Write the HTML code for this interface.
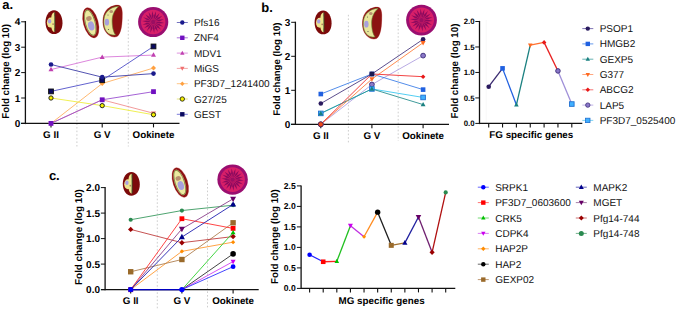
<!DOCTYPE html>
<html><head><meta charset="utf-8"><style>
html,body{margin:0;padding:0;background:#fff;}
body{width:677px;height:311px;overflow:hidden;}
svg{display:block;font-family:"Liberation Sans", sans-serif;}
</style></head><body>
<svg width="677" height="311" viewBox="0 0 677 311" text-rendering="geometricPrecision">
<rect width="677" height="311" fill="#fff"/>
<text x="2.30" y="8.70" font-size="13" font-weight="bold" text-anchor="start" fill="#000">a.</text>
<line x1="76.90" y1="19.00" x2="76.90" y2="146.50" stroke="#c2c2c2" stroke-width="0.8" stroke-dasharray="1.6 2"/>
<line x1="128.30" y1="19.50" x2="128.30" y2="146.50" stroke="#c2c2c2" stroke-width="0.8" stroke-dasharray="1.6 2"/>
<line x1="25.40" y1="21.00" x2="25.40" y2="124.10" stroke="#111" stroke-width="1.3" />
<line x1="21.20" y1="123.40" x2="25.40" y2="123.40" stroke="#111" stroke-width="1.0" />
<text x="20.30" y="126.95" font-size="10" font-weight="bold" text-anchor="end" fill="#000">0</text>
<line x1="21.20" y1="98.00" x2="25.40" y2="98.00" stroke="#111" stroke-width="1.0" />
<text x="20.30" y="101.55" font-size="10" font-weight="bold" text-anchor="end" fill="#000">1</text>
<line x1="21.20" y1="72.60" x2="25.40" y2="72.60" stroke="#111" stroke-width="1.0" />
<text x="20.30" y="76.15" font-size="10" font-weight="bold" text-anchor="end" fill="#000">2</text>
<line x1="21.20" y1="47.20" x2="25.40" y2="47.20" stroke="#111" stroke-width="1.0" />
<text x="20.30" y="50.75" font-size="10" font-weight="bold" text-anchor="end" fill="#000">3</text>
<line x1="21.20" y1="21.80" x2="25.40" y2="21.80" stroke="#111" stroke-width="1.0" />
<text x="20.30" y="25.35" font-size="10" font-weight="bold" text-anchor="end" fill="#000">4</text>
<text x="9.20" y="71.40" font-size="10" font-weight="bold" text-anchor="middle" fill="#000" textLength="94.6" lengthAdjust="spacingAndGlyphs" transform="rotate(-90 9.20 71.40)">Fold change (log 10)</text>
<line x1="21.00" y1="123.40" x2="179.50" y2="123.40" stroke="#111" stroke-width="1.3" />
<line x1="51.00" y1="123.40" x2="51.00" y2="127.40" stroke="#111" stroke-width="1.1" />
<line x1="102.20" y1="123.40" x2="102.20" y2="127.40" stroke="#111" stroke-width="1.1" />
<line x1="153.50" y1="123.40" x2="153.50" y2="127.40" stroke="#111" stroke-width="1.1" />
<text x="51.00" y="138.40" font-size="9.8" font-weight="bold" text-anchor="middle" fill="#000">G II</text>
<text x="102.20" y="138.40" font-size="9.8" font-weight="bold" text-anchor="middle" fill="#000">G V</text>
<text x="153.50" y="138.40" font-size="9.8" font-weight="bold" text-anchor="middle" fill="#000">Ookinete</text>
<g transform="translate(54.0 22.2) scale(1.0)">
<path d="M0,-11.9 C5,-11.9 8.6,-6 8.5,1 C8.4,7.5 5,11.9 0,11.9 C-5,11.9 -8.5,7 -8.5,0 C-8.5,-6.5 -5,-11.9 0,-11.9Z" fill="#7c0a0a"/>
<path d="M0.5,-10 L0.5,9.8 C-1,9.6 -2.2,8 -2.7,5 L-2.7,-5 C-2.5,-8 -1.2,-9.8 0.5,-10 Z" fill="#eee58e"/>
<ellipse cx="-3.4" cy="0.4" rx="3.7" ry="5.0" fill="#eee58e"/>
<rect x="-0.1" y="-6" width="0.6" height="12" fill="#eee58e"/>
<line x1="0.8" y1="-9.7" x2="0.8" y2="9.5" stroke="#2d5a2d" stroke-width="0.8"/>
<ellipse cx="-4.4" cy="-1.0" rx="1.7" ry="2.2" fill="#aaa0e0"/>
<circle cx="-0.9" cy="1.9" r="0.9" fill="#b08060"/>
</g>
<g transform="translate(90.8 22.8) rotate(-15)">
<ellipse cx="0" cy="0" rx="7.800000000000001" ry="15.9" fill="#e6a8a8"/>
<ellipse cx="0" cy="0" rx="7.4" ry="15.5" fill="#8c1212"/>
<ellipse cx="-0.5" cy="-0.2" rx="5.5" ry="13.6" fill="#d09080"/>
<ellipse cx="-0.5" cy="-0.2" rx="5.1000000000000005" ry="13.2" fill="#6f8a3a"/>
<ellipse cx="-0.5" cy="-0.2" rx="4.4" ry="12.5" fill="#ece9a0"/>
<ellipse cx="-0.4" cy="3.1" rx="3.108" ry="4.6499999999999995" fill="#a8a0dc"/>
<ellipse cx="-0.7" cy="-4.6499999999999995" rx="2.8120000000000003" ry="2.3249999999999997" fill="#b89070"/>
</g>
<g transform="translate(112.5 21.0) scale(1.0)">
<path d="M5.5,-16.3 C9,-16 10.2,-12.5 10.2,-7 C10.2,3 9.2,13 4.5,16 C0,17.8 -6,14.5 -8.7,8 C-10.7,3 -10.6,-5 -7.2,-10 C-4,-14.3 1,-16.5 5.5,-16.3 Z" fill="#e6a0a0"/>
<path d="M5.5,-16 C8.5,-15.7 9.8,-12.3 9.8,-7 C9.8,3 8.8,12.8 4.5,15.6 C0,17.2 -5.8,14 -8.3,8 C-10.3,3 -10.2,-5 -6.8,-9.8 C-3.8,-14 1,-16.2 5.5,-16 Z" fill="#8c1212"/>
<path d="M6,-14.6 C0,-14.4 -5.8,-11 -7.9,-5 C-9.4,1 -8.6,7 -5.8,10.8 C-3.6,13.4 -0.5,14.6 3,13.9 C0.6,11 -0.4,5 -0.4,0 C-0.4,-6 2,-11 6,-14.6 Z" fill="#e8e59a" stroke="#6a8a38" stroke-width="0.6"/>
<ellipse cx="-5.6" cy="1.2" rx="2.2" ry="3.4" fill="#a8a0dc"/>
<ellipse cx="-1.2" cy="-9.5" rx="1.8" ry="1.5" fill="#b89070"/>
<circle cx="-4" cy="8.5" r="0.6" fill="#555"/>
<circle cx="-4.5" cy="-6" r="0.5" fill="#555"/>
</g>
<g transform="translate(153.2 22.0)">
<circle r="15.1" fill="#9a0e70"/>
<circle r="12.2" fill="#d81f68"/>
<polygon points="1.49,0.13 6.40,1.46 11.06,0.97 6.55,-0.33" fill="#8a0a5e"/>
<polygon points="1.36,0.63 5.51,3.56 10.06,4.69 6.27,1.93" fill="#8a0a5e"/>
<polygon points="1.06,1.06 3.96,5.23 7.85,7.85 5.23,3.96" fill="#8a0a5e"/>
<polygon points="0.63,1.36 1.93,6.27 4.69,10.06 3.56,5.51" fill="#8a0a5e"/>
<polygon points="0.13,1.49 -0.33,6.55 0.97,11.06 1.46,6.40" fill="#8a0a5e"/>
<polygon points="-0.39,1.45 -2.55,6.05 -2.87,10.72 -0.81,6.51" fill="#8a0a5e"/>
<polygon points="-0.86,1.23 -4.47,4.81 -6.37,9.09 -2.99,5.84" fill="#8a0a5e"/>
<polygon points="-1.23,0.86 -5.84,2.99 -9.09,6.37 -4.81,4.47" fill="#8a0a5e"/>
<polygon points="-1.45,0.39 -6.51,0.81 -10.72,2.87 -6.05,2.55" fill="#8a0a5e"/>
<polygon points="-1.49,-0.13 -6.40,-1.46 -11.06,-0.97 -6.55,0.33" fill="#8a0a5e"/>
<polygon points="-1.36,-0.63 -5.51,-3.56 -10.06,-4.69 -6.27,-1.93" fill="#8a0a5e"/>
<polygon points="-1.06,-1.06 -3.96,-5.23 -7.85,-7.85 -5.23,-3.96" fill="#8a0a5e"/>
<polygon points="-0.63,-1.36 -1.93,-6.27 -4.69,-10.06 -3.56,-5.51" fill="#8a0a5e"/>
<polygon points="-0.13,-1.49 0.33,-6.55 -0.97,-11.06 -1.46,-6.40" fill="#8a0a5e"/>
<polygon points="0.39,-1.45 2.55,-6.05 2.87,-10.72 0.81,-6.51" fill="#8a0a5e"/>
<polygon points="0.86,-1.23 4.47,-4.81 6.37,-9.09 2.99,-5.84" fill="#8a0a5e"/>
<polygon points="1.23,-0.86 5.84,-2.99 9.09,-6.37 4.81,-4.47" fill="#8a0a5e"/>
<polygon points="1.45,-0.39 6.51,-0.81 10.72,-2.87 6.05,-2.55" fill="#8a0a5e"/>
<circle r="2.2" fill="#9a0e62"/>
</g>
<polyline points="51.00,123.40 102.20,83.52 153.50,68.03" fill="none" stroke="#ffb060" stroke-width="0.9" stroke-linejoin="round"/>
<polyline points="51.00,123.40 102.20,99.78 153.50,113.24" fill="none" stroke="#f09090" stroke-width="0.9" stroke-linejoin="round"/>
<polyline points="51.00,69.55 102.20,57.11 153.50,55.07" fill="none" stroke="#d878d8" stroke-width="0.9" stroke-linejoin="round"/>
<polyline points="51.00,98.00 102.20,105.62 153.50,114.76" fill="none" stroke="#eeee40" stroke-width="0.9" stroke-linejoin="round"/>
<polyline points="51.00,123.40 102.20,99.78 153.50,91.65" fill="none" stroke="#9a50d0" stroke-width="0.9" stroke-linejoin="round"/>
<polyline points="51.00,91.40 102.20,80.22 153.50,46.44" fill="none" stroke="#5050c8" stroke-width="0.9" stroke-linejoin="round"/>
<polyline points="51.00,64.47 102.20,77.17 153.50,73.62" fill="none" stroke="#4040a8" stroke-width="0.9" stroke-linejoin="round"/>
<polygon points="51.00,120.90 53.50,123.40 51.00,125.90 48.50,123.40" fill="#ffa040"/>
<polygon points="102.20,81.02 104.70,83.52 102.20,86.02 99.70,83.52" fill="#ffa040"/>
<polygon points="153.50,65.53 156.00,68.03 153.50,70.53 151.00,68.03" fill="#ffa040"/>
<polygon points="51.00,126.10 53.50,121.60 48.50,121.60" fill="#f07070"/>
<polygon points="102.20,102.48 104.70,97.98 99.70,97.98" fill="#f07070"/>
<polygon points="153.50,115.94 156.00,111.44 151.00,111.44" fill="#f07070"/>
<polygon points="51.00,66.85 53.50,71.35 48.50,71.35" fill="#c040b0"/>
<polygon points="102.20,54.41 104.70,58.91 99.70,58.91" fill="#c040b0"/>
<polygon points="153.50,52.37 156.00,56.87 151.00,56.87" fill="#c040b0"/>
<circle cx="51.00" cy="98.00" r="2.15" fill="#f5f000" stroke="#111" stroke-width="0.9"/>
<circle cx="102.20" cy="105.62" r="2.15" fill="#f5f000" stroke="#111" stroke-width="0.9"/>
<circle cx="153.50" cy="114.76" r="2.15" fill="#f5f000" stroke="#111" stroke-width="0.9"/>
<rect x="48.60" y="121.00" width="4.80" height="4.80" fill="#7010c0"/>
<rect x="99.80" y="97.38" width="4.80" height="4.80" fill="#7010c0"/>
<rect x="151.10" y="89.25" width="4.80" height="4.80" fill="#7010c0"/>
<rect x="48.60" y="89.00" width="4.80" height="4.80" fill="#0a0a60" stroke="#111" stroke-width="0.9"/>
<rect x="99.80" y="77.82" width="4.80" height="4.80" fill="#0a0a60" stroke="#111" stroke-width="0.9"/>
<rect x="151.10" y="44.04" width="4.80" height="4.80" fill="#0a0a60" stroke="#111" stroke-width="0.9"/>
<circle cx="51.00" cy="64.47" r="2.30" fill="#1a1a8c"/>
<circle cx="102.20" cy="77.17" r="2.30" fill="#1a1a8c"/>
<circle cx="153.50" cy="73.62" r="2.30" fill="#1a1a8c"/>
<line x1="176.80" y1="22.50" x2="187.80" y2="22.50" stroke="#5050b0" stroke-width="0.8" />
<circle cx="182.30" cy="22.50" r="2.20" fill="#1a1a8c"/>
<text x="193.90" y="26.00" font-size="10" font-weight="normal" text-anchor="start" fill="#111">Pfs16</text>
<line x1="176.80" y1="37.80" x2="187.80" y2="37.80" stroke="#9a50d0" stroke-width="0.8" />
<rect x="180.10" y="35.60" width="4.40" height="4.40" fill="#7010c0"/>
<text x="193.90" y="41.30" font-size="10" font-weight="normal" text-anchor="start" fill="#111">ZNF4</text>
<line x1="176.80" y1="53.10" x2="187.80" y2="53.10" stroke="#d878d8" stroke-width="0.8" />
<polygon points="182.30,50.72 184.50,54.68 180.10,54.68" fill="#c040b0"/>
<text x="193.90" y="56.60" font-size="10" font-weight="normal" text-anchor="start" fill="#111">MDV1</text>
<line x1="176.80" y1="68.40" x2="187.80" y2="68.40" stroke="#f09090" stroke-width="0.8" />
<polygon points="182.30,70.78 184.50,66.82 180.10,66.82" fill="#f07070"/>
<text x="193.90" y="71.90" font-size="10" font-weight="normal" text-anchor="start" fill="#111">MiGS</text>
<line x1="176.80" y1="83.70" x2="187.80" y2="83.70" stroke="#ffb868" stroke-width="0.8" />
<polygon points="182.30,81.50 184.50,83.70 182.30,85.90 180.10,83.70" fill="#ffa040"/>
<text x="193.90" y="87.20" font-size="10" font-weight="normal" text-anchor="start" fill="#111">PF3D7_1241400</text>
<line x1="176.80" y1="99.00" x2="187.80" y2="99.00" stroke="#e0e060" stroke-width="0.8" />
<circle cx="182.30" cy="99.00" r="2.20" fill="#f5f000" stroke="#111" stroke-width="0.8"/>
<text x="193.90" y="102.50" font-size="10" font-weight="normal" text-anchor="start" fill="#111">G27/25</text>
<line x1="176.80" y1="114.30" x2="187.80" y2="114.30" stroke="#5a5ad0" stroke-width="0.8" />
<rect x="180.10" y="112.10" width="4.40" height="4.40" fill="#0a0a60"/>
<text x="193.90" y="117.80" font-size="10" font-weight="normal" text-anchor="start" fill="#111">GEST</text>
<text x="261.30" y="11.60" font-size="13" font-weight="bold" text-anchor="start" fill="#000">b.</text>
<line x1="348.40" y1="14.80" x2="348.40" y2="143.00" stroke="#c2c2c2" stroke-width="0.8" stroke-dasharray="1.6 2"/>
<line x1="398.20" y1="14.50" x2="398.20" y2="141.00" stroke="#c2c2c2" stroke-width="0.8" stroke-dasharray="1.6 2"/>
<line x1="295.40" y1="21.70" x2="295.40" y2="125.00" stroke="#111" stroke-width="1.3" />
<line x1="291.20" y1="124.30" x2="295.40" y2="124.30" stroke="#111" stroke-width="1.0" />
<text x="290.30" y="127.85" font-size="10" font-weight="bold" text-anchor="end" fill="#000">0</text>
<line x1="291.20" y1="90.30" x2="295.40" y2="90.30" stroke="#111" stroke-width="1.0" />
<text x="290.30" y="93.85" font-size="10" font-weight="bold" text-anchor="end" fill="#000">1</text>
<line x1="291.20" y1="56.30" x2="295.40" y2="56.30" stroke="#111" stroke-width="1.0" />
<text x="290.30" y="59.85" font-size="10" font-weight="bold" text-anchor="end" fill="#000">2</text>
<line x1="291.20" y1="22.30" x2="295.40" y2="22.30" stroke="#111" stroke-width="1.0" />
<text x="290.30" y="25.85" font-size="10" font-weight="bold" text-anchor="end" fill="#000">3</text>
<text x="280.10" y="69.10" font-size="9.6" font-weight="bold" text-anchor="middle" fill="#000" textLength="93.2" lengthAdjust="spacingAndGlyphs" transform="rotate(-90 280.10 69.10)">Fold change (log 10)</text>
<line x1="291.00" y1="124.30" x2="449.00" y2="124.30" stroke="#111" stroke-width="1.3" />
<line x1="320.80" y1="124.30" x2="320.80" y2="128.30" stroke="#111" stroke-width="1.1" />
<line x1="371.90" y1="124.30" x2="371.90" y2="128.30" stroke="#111" stroke-width="1.1" />
<line x1="423.10" y1="124.30" x2="423.10" y2="128.30" stroke="#111" stroke-width="1.1" />
<text x="320.80" y="139.30" font-size="9.8" font-weight="bold" text-anchor="middle" fill="#000">G II</text>
<text x="371.90" y="139.30" font-size="9.8" font-weight="bold" text-anchor="middle" fill="#000">G V</text>
<text x="423.10" y="139.30" font-size="9.8" font-weight="bold" text-anchor="middle" fill="#000">Ookinete</text>
<g transform="translate(323.1 22.4) scale(1.0)">
<path d="M0,-11.9 C5,-11.9 8.6,-6 8.5,1 C8.4,7.5 5,11.9 0,11.9 C-5,11.9 -8.5,7 -8.5,0 C-8.5,-6.5 -5,-11.9 0,-11.9Z" fill="#7c0a0a"/>
<path d="M0.5,-10 L0.5,9.8 C-1,9.6 -2.2,8 -2.7,5 L-2.7,-5 C-2.5,-8 -1.2,-9.8 0.5,-10 Z" fill="#eee58e"/>
<ellipse cx="-3.4" cy="0.4" rx="3.7" ry="5.0" fill="#eee58e"/>
<rect x="-0.1" y="-6" width="0.6" height="12" fill="#eee58e"/>
<line x1="0.8" y1="-9.7" x2="0.8" y2="9.5" stroke="#2d5a2d" stroke-width="0.8"/>
<ellipse cx="-4.4" cy="-1.0" rx="1.7" ry="2.2" fill="#aaa0e0"/>
<circle cx="-0.9" cy="1.9" r="0.9" fill="#b08060"/>
</g>
<g transform="translate(372.0 23.0) scale(1.0)">
<path d="M5.5,-16.3 C9,-16 10.2,-12.5 10.2,-7 C10.2,3 9.2,13 4.5,16 C0,17.8 -6,14.5 -8.7,8 C-10.7,3 -10.6,-5 -7.2,-10 C-4,-14.3 1,-16.5 5.5,-16.3 Z" fill="#e6a0a0"/>
<path d="M5.5,-16 C8.5,-15.7 9.8,-12.3 9.8,-7 C9.8,3 8.8,12.8 4.5,15.6 C0,17.2 -5.8,14 -8.3,8 C-10.3,3 -10.2,-5 -6.8,-9.8 C-3.8,-14 1,-16.2 5.5,-16 Z" fill="#8c1212"/>
<path d="M6,-14.6 C0,-14.4 -5.8,-11 -7.9,-5 C-9.4,1 -8.6,7 -5.8,10.8 C-3.6,13.4 -0.5,14.6 3,13.9 C0.6,11 -0.4,5 -0.4,0 C-0.4,-6 2,-11 6,-14.6 Z" fill="#e8e59a" stroke="#6a8a38" stroke-width="0.6"/>
<ellipse cx="-5.6" cy="1.2" rx="2.2" ry="3.4" fill="#a8a0dc"/>
<ellipse cx="-1.2" cy="-9.5" rx="1.8" ry="1.5" fill="#b89070"/>
<circle cx="-4" cy="8.5" r="0.6" fill="#555"/>
<circle cx="-4.5" cy="-6" r="0.5" fill="#555"/>
</g>
<g transform="translate(421.5 20.1)">
<circle r="15.4" fill="#9a0e70"/>
<circle r="12.5" fill="#d81f68"/>
<polygon points="1.49,0.13 6.40,1.46 11.36,0.99 6.55,-0.33" fill="#8a0a5e"/>
<polygon points="1.36,0.63 5.51,3.56 10.33,4.82 6.27,1.93" fill="#8a0a5e"/>
<polygon points="1.06,1.06 3.96,5.23 8.06,8.06 5.23,3.96" fill="#8a0a5e"/>
<polygon points="0.63,1.36 1.93,6.27 4.82,10.33 3.56,5.51" fill="#8a0a5e"/>
<polygon points="0.13,1.49 -0.33,6.55 0.99,11.36 1.46,6.40" fill="#8a0a5e"/>
<polygon points="-0.39,1.45 -2.55,6.05 -2.95,11.01 -0.81,6.51" fill="#8a0a5e"/>
<polygon points="-0.86,1.23 -4.47,4.81 -6.54,9.34 -2.99,5.84" fill="#8a0a5e"/>
<polygon points="-1.23,0.86 -5.84,2.99 -9.34,6.54 -4.81,4.47" fill="#8a0a5e"/>
<polygon points="-1.45,0.39 -6.51,0.81 -11.01,2.95 -6.05,2.55" fill="#8a0a5e"/>
<polygon points="-1.49,-0.13 -6.40,-1.46 -11.36,-0.99 -6.55,0.33" fill="#8a0a5e"/>
<polygon points="-1.36,-0.63 -5.51,-3.56 -10.33,-4.82 -6.27,-1.93" fill="#8a0a5e"/>
<polygon points="-1.06,-1.06 -3.96,-5.23 -8.06,-8.06 -5.23,-3.96" fill="#8a0a5e"/>
<polygon points="-0.63,-1.36 -1.93,-6.27 -4.82,-10.33 -3.56,-5.51" fill="#8a0a5e"/>
<polygon points="-0.13,-1.49 0.33,-6.55 -0.99,-11.36 -1.46,-6.40" fill="#8a0a5e"/>
<polygon points="0.39,-1.45 2.55,-6.05 2.95,-11.01 0.81,-6.51" fill="#8a0a5e"/>
<polygon points="0.86,-1.23 4.47,-4.81 6.54,-9.34 2.99,-5.84" fill="#8a0a5e"/>
<polygon points="1.23,-0.86 5.84,-2.99 9.34,-6.54 4.81,-4.47" fill="#8a0a5e"/>
<polygon points="1.45,-0.39 6.51,-0.81 11.01,-2.95 6.05,-2.55" fill="#8a0a5e"/>
<circle r="2.2" fill="#9a0e62"/>
</g>
<polyline points="320.80,124.30 371.90,84.52 423.10,55.62" fill="none" stroke="#b0a0e0" stroke-width="0.9" stroke-linejoin="round"/>
<polyline points="320.80,113.42 371.90,88.94 423.10,97.44" fill="none" stroke="#40c8f0" stroke-width="0.9" stroke-linejoin="round"/>
<polyline points="320.80,113.42 371.90,88.94 423.10,104.58" fill="none" stroke="#2a9090" stroke-width="0.9" stroke-linejoin="round"/>
<polyline points="320.80,94.04 371.90,73.98 423.10,89.62" fill="none" stroke="#4080e8" stroke-width="0.9" stroke-linejoin="round"/>
<polyline points="320.80,103.56 371.90,73.98 423.10,39.30" fill="none" stroke="#4a3a80" stroke-width="0.9" stroke-linejoin="round"/>
<polyline points="320.80,124.30 371.90,79.08 423.10,42.70" fill="none" stroke="#ff8040" stroke-width="0.9" stroke-linejoin="round"/>
<polyline points="320.80,124.30 371.90,73.98 423.10,76.70" fill="none" stroke="#f03030" stroke-width="0.9" stroke-linejoin="round"/>
<circle cx="320.80" cy="124.30" r="2.40" fill="#8a78c8" stroke="#3a2a78" stroke-width="0.9"/>
<circle cx="371.90" cy="84.52" r="2.40" fill="#8a78c8" stroke="#3a2a78" stroke-width="0.9"/>
<circle cx="423.10" cy="55.62" r="2.40" fill="#8a78c8" stroke="#3a2a78" stroke-width="0.9"/>
<rect x="318.50" y="111.12" width="4.60" height="4.60" fill="#40b0ff" stroke="#2070d0" stroke-width="0.9"/>
<rect x="369.60" y="86.64" width="4.60" height="4.60" fill="#40b0ff" stroke="#2070d0" stroke-width="0.9"/>
<rect x="420.80" y="95.14" width="4.60" height="4.60" fill="#40b0ff" stroke="#2070d0" stroke-width="0.9"/>
<polygon points="320.80,110.83 323.20,115.15 318.40,115.15" fill="#1a8080"/>
<polygon points="371.90,86.35 374.30,90.67 369.50,90.67" fill="#1a8080"/>
<polygon points="423.10,101.99 425.50,106.31 420.70,106.31" fill="#1a8080"/>
<rect x="318.50" y="91.74" width="4.60" height="4.60" fill="#2060e0"/>
<rect x="369.60" y="71.68" width="4.60" height="4.60" fill="#2060e0"/>
<rect x="420.80" y="87.32" width="4.60" height="4.60" fill="#2060e0"/>
<circle cx="320.80" cy="103.56" r="2.30" fill="#2a1a5e"/>
<circle cx="371.90" cy="73.98" r="2.30" fill="#2a1a5e"/>
<circle cx="423.10" cy="39.30" r="2.30" fill="#2a1a5e"/>
<polygon points="320.80,127.00 323.30,122.50 318.30,122.50" fill="#ff6a20"/>
<polygon points="371.90,81.78 374.40,77.28 369.40,77.28" fill="#ff6a20"/>
<polygon points="423.10,45.40 425.60,40.90 420.60,40.90" fill="#ff6a20"/>
<polygon points="320.80,122.00 323.10,124.30 320.80,126.60 318.50,124.30" fill="#e81818"/>
<polygon points="371.90,71.68 374.20,73.98 371.90,76.28 369.60,73.98" fill="#e81818"/>
<polygon points="423.10,74.40 425.40,76.70 423.10,79.00 420.80,76.70" fill="#e81818"/>
<circle cx="320.80" cy="124.30" r="2.50" fill="#f04a18" stroke="#402060" stroke-width="0.8"/>
<rect x="369.60" y="71.68" width="4.60" height="4.60" fill="#1a1a50"/>
<line x1="486.20" y1="20.00" x2="486.20" y2="123.00" stroke="#f6f6f6" stroke-width="0.8" />
<line x1="479.50" y1="20.90" x2="479.50" y2="124.10" stroke="#111" stroke-width="1.3" />
<line x1="475.30" y1="123.40" x2="479.50" y2="123.40" stroke="#111" stroke-width="1.0" />
<text x="474.50" y="126.17" font-size="7.8" font-weight="bold" text-anchor="end" fill="#000">0.0</text>
<line x1="475.30" y1="97.93" x2="479.50" y2="97.93" stroke="#111" stroke-width="1.0" />
<text x="474.50" y="100.69" font-size="7.8" font-weight="bold" text-anchor="end" fill="#000">0.5</text>
<line x1="475.30" y1="72.45" x2="479.50" y2="72.45" stroke="#111" stroke-width="1.0" />
<text x="474.50" y="75.22" font-size="7.8" font-weight="bold" text-anchor="end" fill="#000">1.0</text>
<line x1="475.30" y1="46.97" x2="479.50" y2="46.97" stroke="#111" stroke-width="1.0" />
<text x="474.50" y="49.74" font-size="7.8" font-weight="bold" text-anchor="end" fill="#000">1.5</text>
<line x1="475.30" y1="21.50" x2="479.50" y2="21.50" stroke="#111" stroke-width="1.0" />
<text x="474.50" y="24.27" font-size="7.8" font-weight="bold" text-anchor="end" fill="#000">2.0</text>
<text x="458.30" y="71.00" font-size="10" font-weight="bold" text-anchor="middle" fill="#000" textLength="95.0" lengthAdjust="spacingAndGlyphs" transform="rotate(-90 458.30 71.00)">Fold change (log 10)</text>
<line x1="479.50" y1="123.40" x2="582.30" y2="123.40" stroke="#111" stroke-width="1.3" />
<line x1="488.70" y1="123.40" x2="488.70" y2="127.40" stroke="#111" stroke-width="1.1" />
<line x1="502.55" y1="123.40" x2="502.55" y2="127.40" stroke="#111" stroke-width="1.1" />
<line x1="516.40" y1="123.40" x2="516.40" y2="127.40" stroke="#111" stroke-width="1.1" />
<line x1="530.25" y1="123.40" x2="530.25" y2="127.40" stroke="#111" stroke-width="1.1" />
<line x1="544.10" y1="123.40" x2="544.10" y2="127.40" stroke="#111" stroke-width="1.1" />
<line x1="557.95" y1="123.40" x2="557.95" y2="127.40" stroke="#111" stroke-width="1.1" />
<line x1="571.80" y1="123.40" x2="571.80" y2="127.40" stroke="#111" stroke-width="1.1" />
<text x="489.30" y="137.70" font-size="9.8" font-weight="bold" text-anchor="start" fill="#000" textLength="84" lengthAdjust="spacingAndGlyphs">FG specific genes</text>
<line x1="488.70" y1="86.72" x2="502.55" y2="68.37" stroke="#3a2a70" stroke-width="1.3" />
<line x1="502.55" y1="68.37" x2="516.40" y2="104.80" stroke="#2060e0" stroke-width="1.3" />
<line x1="516.40" y1="104.80" x2="530.25" y2="45.19" stroke="#1a8080" stroke-width="1.3" />
<line x1="530.25" y1="45.19" x2="544.10" y2="42.39" stroke="#ff7030" stroke-width="1.3" />
<line x1="544.10" y1="42.39" x2="557.95" y2="70.92" stroke="#e82020" stroke-width="1.3" />
<line x1="557.95" y1="70.92" x2="571.80" y2="104.04" stroke="#a090d8" stroke-width="1.3" />
<circle cx="488.70" cy="86.72" r="2.30" fill="#2a1a5e"/>
<rect x="500.25" y="66.07" width="4.60" height="4.60" fill="#2060e0"/>
<polygon points="516.40,102.32 518.70,106.46 514.10,106.46" fill="#1a8080"/>
<polygon points="530.25,47.68 532.55,43.54 527.95,43.54" fill="#ff6a20"/>
<polygon points="544.10,40.09 546.40,42.39 544.10,44.69 541.80,42.39" fill="#e81818"/>
<circle cx="557.95" cy="70.92" r="2.30" fill="#8a78c8" stroke="#3a2a78" stroke-width="0.9"/>
<rect x="569.50" y="101.74" width="4.60" height="4.60" fill="#40b0ff" stroke="#2070d0" stroke-width="0.9"/>
<line x1="582.30" y1="28.60" x2="593.30" y2="28.60" stroke="#6050a0" stroke-width="0.8" />
<circle cx="587.80" cy="28.60" r="2.20" fill="#2a1a5e"/>
<text x="599.70" y="32.10" font-size="10" font-weight="normal" text-anchor="start" fill="#111">PSOP1</text>
<line x1="582.30" y1="43.90" x2="593.30" y2="43.90" stroke="#4080e8" stroke-width="0.8" />
<rect x="585.60" y="41.70" width="4.40" height="4.40" fill="#2060e0"/>
<text x="599.70" y="47.40" font-size="10" font-weight="normal" text-anchor="start" fill="#111">HMGB2</text>
<line x1="582.30" y1="59.20" x2="593.30" y2="59.20" stroke="#40a0a0" stroke-width="0.8" />
<polygon points="587.80,56.82 590.00,60.78 585.60,60.78" fill="#1a8080"/>
<text x="599.70" y="62.70" font-size="10" font-weight="normal" text-anchor="start" fill="#111">GEXP5</text>
<line x1="582.30" y1="74.50" x2="593.30" y2="74.50" stroke="#ff9060" stroke-width="0.8" />
<polygon points="587.80,76.88 590.00,72.92 585.60,72.92" fill="#ff6a20"/>
<text x="599.70" y="78.00" font-size="10" font-weight="normal" text-anchor="start" fill="#111">G377</text>
<line x1="582.30" y1="89.80" x2="593.30" y2="89.80" stroke="#f05050" stroke-width="0.8" />
<polygon points="587.80,87.60 590.00,89.80 587.80,92.00 585.60,89.80" fill="#e81818"/>
<text x="599.70" y="93.30" font-size="10" font-weight="normal" text-anchor="start" fill="#111">ABCG2</text>
<line x1="582.30" y1="105.10" x2="593.30" y2="105.10" stroke="#b0a0e0" stroke-width="0.8" />
<circle cx="587.80" cy="105.10" r="2.20" fill="#8a78c8" stroke="#3a2a78" stroke-width="0.8"/>
<text x="599.70" y="108.60" font-size="10" font-weight="normal" text-anchor="start" fill="#111">LAP5</text>
<line x1="582.30" y1="120.40" x2="593.30" y2="120.40" stroke="#60c8f0" stroke-width="0.8" />
<rect x="585.60" y="118.20" width="4.40" height="4.40" fill="#40b0ff" stroke="#2070d0" stroke-width="0.8"/>
<text x="599.70" y="123.90" font-size="10" font-weight="normal" text-anchor="start" fill="#111">PF3D7_0525400</text>
<text x="48.90" y="179.60" font-size="13" font-weight="bold" text-anchor="start" fill="#000">c.</text>
<line x1="157.30" y1="180.70" x2="157.30" y2="309.00" stroke="#c2c2c2" stroke-width="0.8" stroke-dasharray="1.6 2"/>
<line x1="207.50" y1="179.80" x2="207.50" y2="309.00" stroke="#c2c2c2" stroke-width="0.8" stroke-dasharray="1.6 2"/>
<line x1="105.10" y1="186.90" x2="105.10" y2="290.30" stroke="#111" stroke-width="1.3" />
<line x1="100.90" y1="289.60" x2="105.10" y2="289.60" stroke="#111" stroke-width="1.0" />
<text x="100.00" y="293.15" font-size="10" font-weight="bold" text-anchor="end" fill="#000">0.0</text>
<line x1="100.90" y1="264.10" x2="105.10" y2="264.10" stroke="#111" stroke-width="1.0" />
<text x="100.00" y="267.65" font-size="10" font-weight="bold" text-anchor="end" fill="#000">0.5</text>
<line x1="100.90" y1="238.60" x2="105.10" y2="238.60" stroke="#111" stroke-width="1.0" />
<text x="100.00" y="242.15" font-size="10" font-weight="bold" text-anchor="end" fill="#000">1.0</text>
<line x1="100.90" y1="213.10" x2="105.10" y2="213.10" stroke="#111" stroke-width="1.0" />
<text x="100.00" y="216.65" font-size="10" font-weight="bold" text-anchor="end" fill="#000">1.5</text>
<line x1="100.90" y1="187.60" x2="105.10" y2="187.60" stroke="#111" stroke-width="1.0" />
<text x="100.00" y="191.15" font-size="10" font-weight="bold" text-anchor="end" fill="#000">2.0</text>
<text x="81.50" y="237.00" font-size="10" font-weight="bold" text-anchor="middle" fill="#000" textLength="95.8" lengthAdjust="spacingAndGlyphs" transform="rotate(-90 81.50 237.00)">Fold change (log 10)</text>
<line x1="101.00" y1="289.60" x2="258.70" y2="289.60" stroke="#111" stroke-width="1.3" />
<line x1="130.70" y1="289.60" x2="130.70" y2="293.60" stroke="#111" stroke-width="1.1" />
<line x1="181.90" y1="289.60" x2="181.90" y2="293.60" stroke="#111" stroke-width="1.1" />
<line x1="233.10" y1="289.60" x2="233.10" y2="293.60" stroke="#111" stroke-width="1.1" />
<text x="130.70" y="303.70" font-size="9.8" font-weight="bold" text-anchor="middle" fill="#000">G II</text>
<text x="181.90" y="303.70" font-size="9.8" font-weight="bold" text-anchor="middle" fill="#000">G V</text>
<text x="233.10" y="303.70" font-size="9.8" font-weight="bold" text-anchor="middle" fill="#000">Ookinete</text>
<g transform="translate(131.3 183.8) scale(1.0)">
<path d="M0,-11.9 C5,-11.9 8.6,-6 8.5,1 C8.4,7.5 5,11.9 0,11.9 C-5,11.9 -8.5,7 -8.5,0 C-8.5,-6.5 -5,-11.9 0,-11.9Z" fill="#7c0a0a"/>
<path d="M0.5,-10 L0.5,9.8 C-1,9.6 -2.2,8 -2.7,5 L-2.7,-5 C-2.5,-8 -1.2,-9.8 0.5,-10 Z" fill="#eee58e"/>
<ellipse cx="-3.4" cy="0.4" rx="3.7" ry="5.0" fill="#eee58e"/>
<rect x="-0.1" y="-6" width="0.6" height="12" fill="#eee58e"/>
<line x1="0.8" y1="-9.7" x2="0.8" y2="9.5" stroke="#2d5a2d" stroke-width="0.8"/>
<ellipse cx="-4.4" cy="-1.0" rx="1.7" ry="2.2" fill="#aaa0e0"/>
<circle cx="-0.9" cy="1.9" r="0.9" fill="#b08060"/>
</g>
<g transform="translate(180.3 182.5) rotate(-18)">
<ellipse cx="0" cy="0" rx="7.6000000000000005" ry="15.700000000000001" fill="#e6a8a8"/>
<ellipse cx="0" cy="0" rx="7.2" ry="15.3" fill="#8c1212"/>
<ellipse cx="-0.5" cy="-0.2" rx="5.300000000000001" ry="13.4" fill="#d09080"/>
<ellipse cx="-0.5" cy="-0.2" rx="4.9" ry="13.0" fill="#6f8a3a"/>
<ellipse cx="-0.5" cy="-0.2" rx="4.2" ry="12.3" fill="#ece9a0"/>
<ellipse cx="-0.4" cy="3.0600000000000005" rx="3.024" ry="4.59" fill="#a8a0dc"/>
<ellipse cx="-0.7" cy="-4.59" rx="2.736" ry="2.295" fill="#b89070"/>
</g>
<g transform="translate(232.6 179.6)">
<circle r="15.2" fill="#9a0e70"/>
<circle r="12.299999999999999" fill="#d81f68"/>
<polygon points="1.49,0.13 6.40,1.46 11.16,0.98 6.55,-0.33" fill="#8a0a5e"/>
<polygon points="1.36,0.63 5.51,3.56 10.15,4.73 6.27,1.93" fill="#8a0a5e"/>
<polygon points="1.06,1.06 3.96,5.23 7.92,7.92 5.23,3.96" fill="#8a0a5e"/>
<polygon points="0.63,1.36 1.93,6.27 4.73,10.15 3.56,5.51" fill="#8a0a5e"/>
<polygon points="0.13,1.49 -0.33,6.55 0.98,11.16 1.46,6.40" fill="#8a0a5e"/>
<polygon points="-0.39,1.45 -2.55,6.05 -2.90,10.82 -0.81,6.51" fill="#8a0a5e"/>
<polygon points="-0.86,1.23 -4.47,4.81 -6.42,9.17 -2.99,5.84" fill="#8a0a5e"/>
<polygon points="-1.23,0.86 -5.84,2.99 -9.17,6.42 -4.81,4.47" fill="#8a0a5e"/>
<polygon points="-1.45,0.39 -6.51,0.81 -10.82,2.90 -6.05,2.55" fill="#8a0a5e"/>
<polygon points="-1.49,-0.13 -6.40,-1.46 -11.16,-0.98 -6.55,0.33" fill="#8a0a5e"/>
<polygon points="-1.36,-0.63 -5.51,-3.56 -10.15,-4.73 -6.27,-1.93" fill="#8a0a5e"/>
<polygon points="-1.06,-1.06 -3.96,-5.23 -7.92,-7.92 -5.23,-3.96" fill="#8a0a5e"/>
<polygon points="-0.63,-1.36 -1.93,-6.27 -4.73,-10.15 -3.56,-5.51" fill="#8a0a5e"/>
<polygon points="-0.13,-1.49 0.33,-6.55 -0.98,-11.16 -1.46,-6.40" fill="#8a0a5e"/>
<polygon points="0.39,-1.45 2.55,-6.05 2.90,-10.82 0.81,-6.51" fill="#8a0a5e"/>
<polygon points="0.86,-1.23 4.47,-4.81 6.42,-9.17 2.99,-5.84" fill="#8a0a5e"/>
<polygon points="1.23,-0.86 5.84,-2.99 9.17,-6.42 4.81,-4.47" fill="#8a0a5e"/>
<polygon points="1.45,-0.39 6.51,-0.81 10.82,-2.90 6.05,-2.55" fill="#8a0a5e"/>
<circle r="2.2" fill="#9a0e62"/>
</g>
<polyline points="130.70,289.60 181.90,251.35 233.10,242.17" fill="none" stroke="#ff9830" stroke-width="0.9" stroke-linejoin="round"/>
<polyline points="130.70,271.75 181.90,259.51 233.10,222.79" fill="none" stroke="#b08050" stroke-width="0.9" stroke-linejoin="round"/>
<polyline points="130.70,219.73 181.90,210.55 233.10,205.20" fill="none" stroke="#3a9a60" stroke-width="0.9" stroke-linejoin="round"/>
<polyline points="130.70,229.42 181.90,242.68 233.10,236.56" fill="none" stroke="#c04040" stroke-width="0.9" stroke-linejoin="round"/>
<polyline points="130.70,289.60 181.90,218.71 233.10,228.40" fill="none" stroke="#ff3030" stroke-width="0.9" stroke-linejoin="round"/>
<polyline points="130.70,289.60 181.90,289.60 233.10,232.48" fill="none" stroke="#30d030" stroke-width="0.9" stroke-linejoin="round"/>
<polyline points="130.70,289.60 181.90,289.60 233.10,253.90" fill="none" stroke="#303030" stroke-width="0.9" stroke-linejoin="round"/>
<polyline points="130.70,289.60 181.90,289.60 233.10,261.55" fill="none" stroke="#d040f0" stroke-width="0.9" stroke-linejoin="round"/>
<polyline points="130.70,289.60 181.90,289.60 233.10,266.65" fill="none" stroke="#3030ff" stroke-width="0.9" stroke-linejoin="round"/>
<polyline points="130.70,289.60 181.90,228.91 233.10,198.82" fill="none" stroke="#8a408a" stroke-width="0.9" stroke-linejoin="round"/>
<polyline points="130.70,289.60 181.90,237.07 233.10,204.43" fill="none" stroke="#2020b0" stroke-width="0.9" stroke-linejoin="round"/>
<polygon points="181.90,249.25 184.00,251.35 181.90,253.45 179.80,251.35" fill="#ff8c00"/>
<polygon points="233.10,240.07 235.20,242.17 233.10,244.27 231.00,242.17" fill="#ff8c00"/>
<rect x="128.00" y="269.05" width="5.40" height="5.40" fill="#9a6a2a"/>
<rect x="179.20" y="256.81" width="5.40" height="5.40" fill="#9a6a2a"/>
<rect x="230.40" y="220.09" width="5.40" height="5.40" fill="#9a6a2a"/>
<circle cx="130.70" cy="219.73" r="2.10" fill="#2a8a50"/>
<circle cx="181.90" cy="210.55" r="2.10" fill="#2a8a50"/>
<circle cx="233.10" cy="205.20" r="2.10" fill="#2a8a50"/>
<polygon points="130.70,226.72 133.40,229.42 130.70,232.12 128.00,229.42" fill="#9a0000"/>
<polygon points="181.90,239.98 184.60,242.68 181.90,245.38 179.20,242.68" fill="#9a0000"/>
<polygon points="233.10,233.86 235.80,236.56 233.10,239.26 230.40,236.56" fill="#9a0000"/>
<rect x="179.50" y="216.31" width="4.80" height="4.80" fill="#ff0000"/>
<rect x="230.70" y="226.00" width="4.80" height="4.80" fill="#ff0000"/>
<polygon points="233.10,229.89 235.50,234.21 230.70,234.21" fill="#00c000"/>
<circle cx="233.10" cy="253.90" r="2.80" fill="#000000"/>
<polygon points="233.10,264.25 235.60,259.75 230.60,259.75" fill="#cc00ee"/>
<circle cx="233.10" cy="266.65" r="2.40" fill="#0000ff"/>
<polygon points="181.90,232.15 184.90,226.75 178.90,226.75" fill="#660066"/>
<polygon points="233.10,202.06 236.10,196.66 230.10,196.66" fill="#660066"/>
<polygon points="181.90,233.83 184.90,239.23 178.90,239.23" fill="#00008b"/>
<polygon points="233.10,201.19 236.10,206.59 230.10,206.59" fill="#00008b"/>
<line x1="130.70" y1="289.60" x2="181.90" y2="289.60" stroke="#0000c0" stroke-width="1.4" />
<rect x="128.20" y="287.10" width="5.00" height="5.00" fill="#5a0090"/>
<circle cx="130.70" cy="289.60" r="2.50" fill="#0000ff"/>
<circle cx="181.90" cy="289.60" r="2.70" fill="#0000ff"/>
<line x1="301.10" y1="185.50" x2="301.10" y2="289.10" stroke="#111" stroke-width="1.3" />
<line x1="296.90" y1="288.40" x2="301.10" y2="288.40" stroke="#111" stroke-width="1.0" />
<text x="295.70" y="291.45" font-size="8.6" font-weight="bold" text-anchor="end" fill="#000">0.0</text>
<line x1="296.90" y1="267.90" x2="301.10" y2="267.90" stroke="#111" stroke-width="1.0" />
<text x="295.70" y="270.95" font-size="8.6" font-weight="bold" text-anchor="end" fill="#000">0.5</text>
<line x1="296.90" y1="247.40" x2="301.10" y2="247.40" stroke="#111" stroke-width="1.0" />
<text x="295.70" y="250.45" font-size="8.6" font-weight="bold" text-anchor="end" fill="#000">1.0</text>
<line x1="296.90" y1="226.90" x2="301.10" y2="226.90" stroke="#111" stroke-width="1.0" />
<text x="295.70" y="229.95" font-size="8.6" font-weight="bold" text-anchor="end" fill="#000">1.5</text>
<line x1="296.90" y1="206.40" x2="301.10" y2="206.40" stroke="#111" stroke-width="1.0" />
<text x="295.70" y="209.45" font-size="8.6" font-weight="bold" text-anchor="end" fill="#000">2.0</text>
<line x1="296.90" y1="185.90" x2="301.10" y2="185.90" stroke="#111" stroke-width="1.0" />
<text x="295.70" y="188.95" font-size="8.6" font-weight="bold" text-anchor="end" fill="#000">2.5</text>
<text x="278.10" y="236.60" font-size="10" font-weight="bold" text-anchor="middle" fill="#000" textLength="94.8" lengthAdjust="spacingAndGlyphs" transform="rotate(-90 278.10 236.60)">Fold change (log 10)</text>
<line x1="301.00" y1="288.40" x2="455.30" y2="288.40" stroke="#111" stroke-width="1.3" />
<line x1="309.60" y1="288.40" x2="309.60" y2="292.40" stroke="#111" stroke-width="1.1" />
<line x1="323.21" y1="288.40" x2="323.21" y2="292.40" stroke="#111" stroke-width="1.1" />
<line x1="336.82" y1="288.40" x2="336.82" y2="292.40" stroke="#111" stroke-width="1.1" />
<line x1="350.43" y1="288.40" x2="350.43" y2="292.40" stroke="#111" stroke-width="1.1" />
<line x1="364.04" y1="288.40" x2="364.04" y2="292.40" stroke="#111" stroke-width="1.1" />
<line x1="377.65" y1="288.40" x2="377.65" y2="292.40" stroke="#111" stroke-width="1.1" />
<line x1="391.26" y1="288.40" x2="391.26" y2="292.40" stroke="#111" stroke-width="1.1" />
<line x1="404.87" y1="288.40" x2="404.87" y2="292.40" stroke="#111" stroke-width="1.1" />
<line x1="418.48" y1="288.40" x2="418.48" y2="292.40" stroke="#111" stroke-width="1.1" />
<line x1="432.09" y1="288.40" x2="432.09" y2="292.40" stroke="#111" stroke-width="1.1" />
<line x1="445.70" y1="288.40" x2="445.70" y2="292.40" stroke="#111" stroke-width="1.1" />
<text x="338.60" y="304.30" font-size="9.8" font-weight="bold" text-anchor="start" fill="#000" textLength="86" lengthAdjust="spacingAndGlyphs">MG specific genes</text>
<line x1="309.60" y1="254.78" x2="323.21" y2="261.75" stroke="#2020ff" stroke-width="1.3" />
<line x1="323.21" y1="261.75" x2="336.82" y2="261.34" stroke="#ff2020" stroke-width="1.3" />
<line x1="336.82" y1="261.34" x2="350.43" y2="225.67" stroke="#20c020" stroke-width="1.3" />
<line x1="350.43" y1="225.67" x2="364.04" y2="236.74" stroke="#c030e0" stroke-width="1.3" />
<line x1="364.04" y1="236.74" x2="377.65" y2="212.14" stroke="#ff8c20" stroke-width="1.3" />
<line x1="377.65" y1="212.14" x2="391.26" y2="245.35" stroke="#202020" stroke-width="1.3" />
<line x1="391.26" y1="245.35" x2="404.87" y2="242.89" stroke="#a07030" stroke-width="1.3" />
<line x1="404.87" y1="242.89" x2="418.48" y2="217.06" stroke="#2020a0" stroke-width="1.3" />
<line x1="418.48" y1="217.06" x2="432.09" y2="252.32" stroke="#702070" stroke-width="1.3" />
<line x1="432.09" y1="252.32" x2="445.70" y2="192.46" stroke="#b01010" stroke-width="1.3" />
<circle cx="309.60" cy="254.78" r="2.30" fill="#0000ff"/>
<rect x="320.91" y="259.45" width="4.60" height="4.60" fill="#ff0000"/>
<polygon points="336.82,258.86 339.12,263.00 334.52,263.00" fill="#00c000"/>
<polygon points="350.43,228.37 352.93,223.87 347.93,223.87" fill="#cc00ee"/>
<polygon points="364.04,234.74 366.04,236.74 364.04,238.74 362.04,236.74" fill="#ff8c00"/>
<circle cx="377.65" cy="212.14" r="2.70" fill="#000000"/>
<rect x="388.76" y="242.85" width="5.00" height="5.00" fill="#9a6a2a"/>
<polygon points="404.87,240.08 407.47,244.76 402.27,244.76" fill="#00008b"/>
<polygon points="418.48,220.08 421.28,215.04 415.68,215.04" fill="#660066"/>
<polygon points="432.09,249.72 434.69,252.32 432.09,254.92 429.49,252.32" fill="#9a0000"/>
<circle cx="445.70" cy="192.46" r="2.10" fill="#2a8a50"/>
<line x1="477.80" y1="187.20" x2="488.80" y2="187.20" stroke="#4040ff" stroke-width="0.8" />
<circle cx="483.30" cy="187.20" r="2.20" fill="#0000ff"/>
<text x="495.20" y="190.70" font-size="10" font-weight="normal" text-anchor="start" fill="#111">SRPK1</text>
<line x1="477.80" y1="202.60" x2="488.80" y2="202.60" stroke="#ff5050" stroke-width="0.8" />
<rect x="481.10" y="200.40" width="4.40" height="4.40" fill="#ff0000"/>
<text x="495.20" y="206.10" font-size="10" font-weight="normal" text-anchor="start" fill="#111">PF3D7_0603600</text>
<line x1="477.80" y1="218.00" x2="488.80" y2="218.00" stroke="#50d050" stroke-width="0.8" />
<polygon points="483.30,215.62 485.50,219.58 481.10,219.58" fill="#00c000"/>
<text x="495.20" y="221.50" font-size="10" font-weight="normal" text-anchor="start" fill="#111">CRK5</text>
<line x1="477.80" y1="233.40" x2="488.80" y2="233.40" stroke="#d060f0" stroke-width="0.8" />
<polygon points="483.30,235.78 485.50,231.82 481.10,231.82" fill="#cc00ee"/>
<text x="495.20" y="236.90" font-size="10" font-weight="normal" text-anchor="start" fill="#111">CDPK4</text>
<line x1="477.80" y1="248.80" x2="488.80" y2="248.80" stroke="#ffa040" stroke-width="0.8" />
<polygon points="483.30,246.60 485.50,248.80 483.30,251.00 481.10,248.80" fill="#ff8c00"/>
<text x="495.20" y="252.30" font-size="10" font-weight="normal" text-anchor="start" fill="#111">HAP2P</text>
<line x1="477.80" y1="264.20" x2="488.80" y2="264.20" stroke="#404040" stroke-width="0.8" />
<circle cx="483.30" cy="264.20" r="2.20" fill="#000000"/>
<text x="495.20" y="267.70" font-size="10" font-weight="normal" text-anchor="start" fill="#111">HAP2</text>
<line x1="477.80" y1="279.60" x2="488.80" y2="279.60" stroke="#b08050" stroke-width="0.8" />
<rect x="481.10" y="277.40" width="4.40" height="4.40" fill="#9a6a2a"/>
<text x="495.20" y="283.10" font-size="10" font-weight="normal" text-anchor="start" fill="#111">GEXP02</text>
<line x1="575.80" y1="187.20" x2="586.80" y2="187.20" stroke="#4040b0" stroke-width="0.8" />
<polygon points="581.30,184.50 583.80,189.00 578.80,189.00" fill="#00008b"/>
<text x="593.30" y="190.70" font-size="10" font-weight="normal" text-anchor="start" fill="#111">MAPK2</text>
<line x1="575.80" y1="202.60" x2="586.80" y2="202.60" stroke="#906090" stroke-width="0.8" />
<polygon points="581.30,205.30 583.80,200.80 578.80,200.80" fill="#660066"/>
<text x="593.30" y="206.10" font-size="10" font-weight="normal" text-anchor="start" fill="#111">MGET</text>
<line x1="575.80" y1="218.00" x2="586.80" y2="218.00" stroke="#c05050" stroke-width="0.8" />
<polygon points="581.30,215.50 583.80,218.00 581.30,220.50 578.80,218.00" fill="#9a0000"/>
<text x="593.30" y="221.50" font-size="10" font-weight="normal" text-anchor="start" fill="#111">Pfg14-744</text>
<line x1="575.80" y1="233.40" x2="586.80" y2="233.40" stroke="#50a070" stroke-width="0.8" />
<circle cx="581.30" cy="233.40" r="2.50" fill="#2a8a50"/>
<text x="593.30" y="236.90" font-size="10" font-weight="normal" text-anchor="start" fill="#111">Pfg14-748</text>
</svg>
</body></html>
